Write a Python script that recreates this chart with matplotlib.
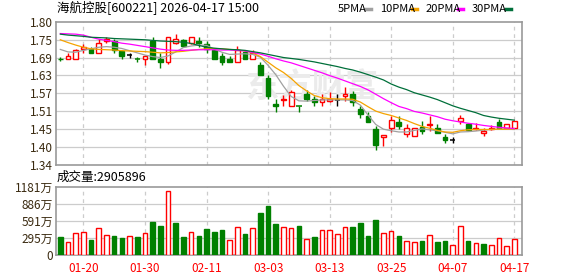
import matplotlib
matplotlib.use("Agg")
import matplotlib.pyplot as plt
import numpy as np

plt.rcParams['font.family'] = ['Noto Sans CJK SC', 'DejaVu Sans']

# daily candles (60 trading days)
opens = [1.681, 1.681, 1.681, 1.711, 1.711, 1.700, 1.737, 1.739, 1.707, 1.693,
         1.680, 1.681, 1.739, 1.681, 1.672, 1.733, 1.741, 1.733, 1.737, 1.730,
         1.709, 1.690, 1.681, 1.672, 1.704, 1.681, 1.660, 1.618, 1.537, 1.550,
         1.530, 1.531, 1.569, 1.552, 1.541, 1.545, 1.548, 1.562, 1.569, 1.519,
         1.498, 1.456, 1.430, 1.459, 1.479, 1.438, 1.432, 1.462, 1.469, 1.458,
         1.430, 1.420, 1.481, 1.471, 1.457, 1.442, 1.457, 1.479, 1.460, 1.460]
highs = [1.686, 1.698, 1.712, 1.729, 1.720, 1.743, 1.750, 1.744, 1.710, 1.700,
         1.688, 1.693, 1.750, 1.698, 1.750, 1.761, 1.743, 1.750, 1.750, 1.739,
         1.712, 1.698, 1.690, 1.722, 1.709, 1.709, 1.671, 1.629, 1.553, 1.565,
         1.580, 1.531, 1.580, 1.563, 1.568, 1.573, 1.569, 1.591, 1.577, 1.530,
         1.511, 1.465, 1.437, 1.497, 1.497, 1.471, 1.460, 1.481, 1.497, 1.471,
         1.438, 1.430, 1.500, 1.474, 1.475, 1.458, 1.468, 1.488, 1.471, 1.481]
lows = [1.673, 1.681, 1.680, 1.700, 1.698, 1.700, 1.733, 1.700, 1.680, 1.683,
        1.671, 1.661, 1.681, 1.652, 1.663, 1.727, 1.720, 1.727, 1.720, 1.700,
        1.680, 1.661, 1.671, 1.672, 1.680, 1.680, 1.628, 1.553, 1.511, 1.530,
        1.530, 1.511, 1.546, 1.530, 1.530, 1.541, 1.530, 1.546, 1.530, 1.492,
        1.479, 1.388, 1.400, 1.447, 1.456, 1.431, 1.432, 1.440, 1.449, 1.442,
        1.410, 1.410, 1.471, 1.453, 1.453, 1.432, 1.452, 1.460, 1.459, 1.459]
closes = [1.679, 1.690, 1.709, 1.720, 1.700, 1.733, 1.744, 1.709, 1.691, 1.693,
          1.679, 1.690, 1.681, 1.671, 1.750, 1.743, 1.723, 1.750, 1.733, 1.711,
          1.681, 1.671, 1.671, 1.709, 1.681, 1.698, 1.629, 1.563, 1.529, 1.552,
          1.573, 1.530, 1.552, 1.541, 1.552, 1.552, 1.548, 1.569, 1.541, 1.503,
          1.479, 1.403, 1.436, 1.486, 1.465, 1.458, 1.458, 1.449, 1.471, 1.442,
          1.419, 1.420, 1.490, 1.453, 1.459, 1.449, 1.459, 1.460, 1.471, 1.481]

ma5 = [1.711, 1.703, 1.702, 1.708, 1.713, 1.718, 1.720, 1.718, 1.714, 1.707,
       1.700, 1.693, 1.688, 1.685, 1.690, 1.703, 1.717, 1.722, 1.725, 1.724,
       1.712, 1.702, 1.695, 1.696, 1.697, 1.695, 1.686, 1.660, 1.630, 1.593,
       1.560, 1.546, 1.545, 1.547, 1.549, 1.549, 1.549, 1.549, 1.547, 1.532,
       1.500, 1.470, 1.455, 1.450, 1.446, 1.446, 1.451, 1.456, 1.453, 1.450,
       1.445, 1.440, 1.446, 1.447, 1.449, 1.452, 1.454, 1.455, 1.455, 1.454]
ma10 = [1.742, 1.733, 1.725, 1.718, 1.713, 1.711, 1.710, 1.709, 1.707, 1.706,
        1.705, 1.704, 1.702, 1.700, 1.701, 1.703, 1.705, 1.708, 1.711, 1.713,
        1.714, 1.713, 1.711, 1.709, 1.706, 1.700, 1.688, 1.670, 1.652, 1.637,
        1.618, 1.595, 1.578, 1.563, 1.556, 1.553, 1.552, 1.552, 1.551, 1.542,
        1.527, 1.513, 1.505, 1.499, 1.491, 1.483, 1.473, 1.464, 1.458, 1.451,
        1.446, 1.445, 1.450, 1.453, 1.454, 1.454, 1.454, 1.455, 1.455, 1.456]
ma20 = [1.762, 1.761, 1.760, 1.757, 1.750, 1.744, 1.740, 1.736, 1.731, 1.728,
        1.724, 1.720, 1.716, 1.712, 1.709, 1.708, 1.708, 1.709, 1.710, 1.710,
        1.710, 1.709, 1.709, 1.708, 1.706, 1.701, 1.696, 1.689, 1.681, 1.674,
        1.668, 1.660, 1.652, 1.644, 1.636, 1.627, 1.619, 1.610, 1.601, 1.592,
        1.581, 1.567, 1.553, 1.540, 1.528, 1.521, 1.512, 1.507, 1.501, 1.495,
        1.487, 1.482, 1.478, 1.474, 1.471, 1.467, 1.464, 1.461, 1.459, 1.457]
ma30 = [1.760, 1.757, 1.755, 1.753, 1.750, 1.749, 1.748, 1.746, 1.745, 1.744,
        1.743, 1.742, 1.740, 1.738, 1.737, 1.736, 1.734, 1.730, 1.724, 1.718,
        1.715, 1.713, 1.711, 1.710, 1.708, 1.704, 1.700, 1.695, 1.690, 1.685,
        1.682, 1.679, 1.675, 1.671, 1.666, 1.661, 1.656, 1.650, 1.645, 1.638,
        1.630, 1.622, 1.613, 1.600, 1.590, 1.582, 1.572, 1.565, 1.558, 1.550,
        1.540, 1.530, 1.522, 1.515, 1.508, 1.499, 1.494, 1.490, 1.487, 1.484]

# volume in 万 shares, and whether the bar is drawn as "up" (hollow red)
volume = [311, 236, 392, 409, 259, 478, 357, 328, 294, 340,
          311, 392, 570, 501, 1106, 553, 311, 409, 328, 449,
          398, 432, 271, 495, 363, 467, 726, 847, 536, 495,
          478, 501, 288, 311, 444, 444, 374, 495, 484, 553,
          328, 605, 392, 426, 328, 253, 236, 253, 357, 236,
          253, 184, 513, 253, 219, 202, 184, 305, 167, 288]
vol_up = [0, 1, 1, 1, 0, 1, 1, 0, 0, 1,
          0, 1, 0, 0, 1, 0, 0, 1, 0, 0,
          0, 0, 1, 1, 0, 1, 0, 0, 0, 1,
          1, 0, 1, 0, 1, 1, 1, 1, 0, 0,
          0, 0, 1, 1, 0, 1, 1, 0, 1, 0,
          0, 1, 1, 0, 1, 0, 1, 1, 1, 1]

date_pos = [3, 11, 19, 27, 35, 43, 51, 59]
date_labels = ["01-20", "01-30", "02-11", "03-03", "03-13", "03-25", "04-07", "04-17"]
price_ticks = [1.34, 1.40, 1.45, 1.51, 1.57, 1.63, 1.69, 1.75, 1.80]
vol_ticks = [0, 295, 591, 886, 1181]
vol_labels = ["0", "295万", "591万", "886万", "1181万"]

RED = "#ff0000"
GREEN = "#008000"
W, H = 578, 276
fig = plt.figure(figsize=(W / 100, H / 100), dpi=100)

def box(l, t, r, b):
    return [l / W, 1 - b / H, (r - l) / W, (b - t) / H]

ax = fig.add_axes(box(55.7, 21.7, 522.3, 165))
axv = fig.add_axes(box(55.7, 186.7, 522.3, 255.3))

x = np.arange(len(closes))
xlim = (-0.6, 60.04)
label_color = "#3a2a10"

for a in (ax, axv):
    a.set_xlim(*xlim)
    for s in a.spines.values():
        s.set_color("#999999")
        s.set_linewidth(1.2)
    a.set_xticks([])
    a.tick_params(axis="y", length=0, pad=2, labelsize=8.5, labelcolor=label_color)
    for p in date_pos:
        a.axvline(p, color="#cccccc", lw=0.9, ls=(0, (3, 3)), zorder=0)

# price panel
ymin, ymax = 1.34, 1.80
ax.set_ylim(ymin, ymax)
grid_levels = np.linspace(ymin, ymax, len(price_ticks))
ax.set_yticks(grid_levels)
ax.set_yticklabels([f"{v:.2f}" for v in price_ticks])
for g in grid_levels[1:-1]:
    ax.axhline(g, color="#cccccc", lw=0.9, zorder=0)

# faint watermark behind the candles
ax.text(0.549, 0.537, "东方财富", transform=ax.transAxes, fontsize=24,
        fontweight="bold", color="#ebebeb", ha="center", va="center", zorder=1)

for i in range(len(closes)):
    o, h, l, c = opens[i], highs[i], lows[i], closes[i]
    if c > o:
        col, face = RED, "white"
    elif c < o:
        col, face = GREEN, GREEN
    else:
        col, face = "black", "black"
    top, bot = max(o, c), min(o, c)
    ax.vlines(i, top, h, color=col, lw=1, zorder=2)
    ax.vlines(i, l, bot, color=col, lw=1, zorder=2)
    if top - bot < 0.002:
        ax.hlines((top + bot) / 2, i - 0.35, i + 0.35, color=col, lw=1.1, zorder=3)
    else:
        ax.bar(i, top - bot, bottom=bot, width=0.62, facecolor=face,
               edgecolor=col, lw=1, zorder=3)

ax.plot(x, ma5, color="#a0a0a0", lw=0.9, zorder=4)
ax.plot(x, ma10, color="#f5a300", lw=0.9, zorder=4)
ax.plot(x, ma20, color="#ff00ff", lw=0.9, zorder=4)
ax.plot(x, ma30, color="#006f3a", lw=0.9, zorder=4)

# volume panel
axv.set_ylim(0, 1181)
axv.set_yticks(vol_ticks)
axv.set_yticklabels(vol_labels)
for g in vol_ticks[1:-1]:
    axv.axhline(g, color="#cccccc", lw=0.9, zorder=0)
for i, v in enumerate(volume):
    if vol_up[i]:
        axv.bar(i, v, width=0.6, facecolor="white", edgecolor=RED, lw=1, zorder=3)
    else:
        axv.bar(i, v, width=0.6, facecolor=GREEN, edgecolor=GREEN, lw=1, zorder=3)

for p, lab in zip(date_pos, date_labels):
    fig.text((55.7 + (p - xlim[0]) / (xlim[1] - xlim[0]) * (522.3 - 55.7)) / W,
             1 - 268 / H, lab, color=RED, fontsize=8.5, ha="center", va="center")

# header texts
fig.text(57 / W, 1 - 8.5 / H, "海航控股[600221] 2026-04-17 15:00", fontsize=9,
         color="black", ha="left", va="center")
fig.text(57 / W, 1 - 177.5 / H, "成交量:2905896", fontsize=9,
         color="black", ha="left", va="center")

# legend: label followed by a short coloured dash
legend = [("5PMA", 338, "#a0a0a0"), ("10PMA", 380, "#f5a300"),
          ("20PMA", 425.7, "#ff00ff"), ("30PMA", 471.7, "#006f3a")]
for (name, lx, col), nxt in zip(legend, [380, 425.7, 471.7, 520]):
    fig.text(lx / W, 1 - 8.5 / H, name, fontsize=8, color="black",
             ha="left", va="center")
    x0 = (nxt - 14) / W
    fig.add_artist(plt.Line2D([x0, x0 + 5 / W], [1 - 8.5 / H, 1 - 8.5 / H],
                              color=col, lw=2.5))

fig.savefig("out.png", dpi=100)
